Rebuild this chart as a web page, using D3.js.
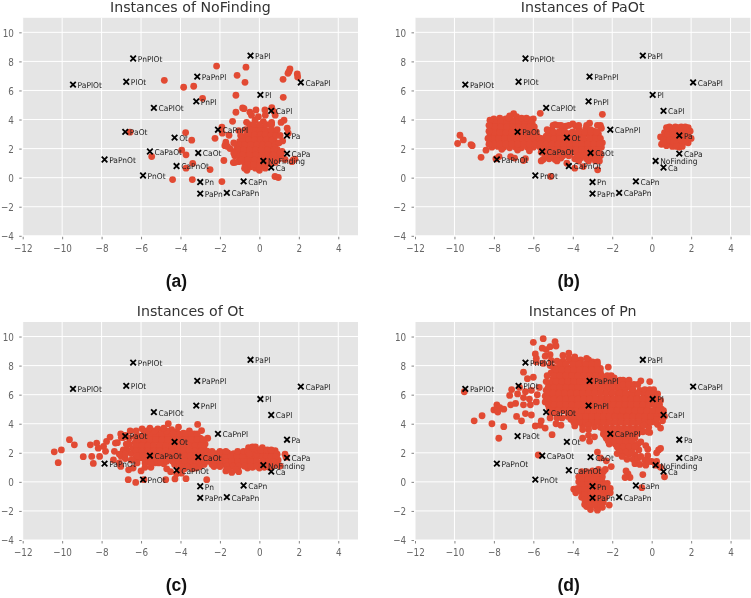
<!DOCTYPE html>
<html><head><meta charset="utf-8">
<script src="https://cdn.jsdelivr.net/npm/d3@7"></script>
<style>html,body{margin:0;padding:0;background:#fff}svg{display:block;filter:blur(0.35px)}</style></head>
<body><div id="chart"></div>
<script>
const xTicks=[-12,-10,-8,-6,-4,-2,0,2,4];
const yTicks=[-4,-2,0,2,4,6,8,10];
const classNames=["NoFinding","Ca","Pa","CaPa","Pn","CaPn","PaPn","CaPaPn","Pl","CaPl","PaPl","CaPaPl","PnPl","CaPnPl","PaPnPl","Ot","CaOt","PaOt","CaPaOt","PnOt","CaPnOt","PaPnOt","PlOt","CaPlOt","PaPlOt","PnPlOt"];
const classX=[0.2,0.6,1.4,1.4,-3,-0.8,-3,-1.65,0.05,0.6,-0.45,2.1,-3.2,-2.1,-3.15,-4.3,-3.1,-6.8,-5.55,-5.9,-4.2,-7.85,-6.75,-5.35,-9.45,-6.4];
const classY=[1.15,0.7,2.9,1.65,-0.3,-0.25,-1.1,-1.05,5.7,4.6,8.4,6.55,5.25,3.3,6.95,2.75,1.7,3.15,1.8,0.15,0.8,1.25,6.6,4.8,6.4,8.2];

const pointsNoFinding=[[-2.17,7.68],[-0.68,7.6],[-1.13,7.04],[-0.73,6.56],[-4.82,6.7],[-3.84,6.22],[-3.33,6.29],[-2.88,5.46],[-1.19,5.67],[1.2,6.77],[1.21,5.53],[1.45,7.18],[1.55,7.48],[1.5,7.3],[1.92,7.14],[1.94,6.93],
[-1.19,4.5],[-0.85,4.8],[-0.78,4.75],[-0.48,4.5],[-0.17,4.66],[0.28,4.66],[0.63,4.82],[0.74,4.55],[-1.36,3.88],[-0.65,3.81],[-0.22,3.97],[-0.05,4.2],[0.2,3.86],[0.62,3.8],[0.62,3.65],[1.1,3.8],[1.25,3.95],[1.41,3.4],[1.46,3.06],[1.18,2.53],[0.76,3.06],[-1.9,3.47],[-1.88,3.06],[-1.54,2.92],[-1.05,3.24],[-2.25,2.71],[-1.7,2.44],[-1.75,2.2],[-1.49,2],[-1.62,2.15],[-1.8,1.18],[-1.32,1.04],[-0.63,0.51],[0,0.51],[-0.2,0.65],[-0.45,0.75],
[-3.74,3.1],[-3.43,2.58],[-3.94,1.89],[-3.72,1.57],[-5.46,1.45],[-6.56,3.13],[-3.38,0.99],[-3.72,0.65],[-2.5,0.56],[-4.4,-0.13],[-3.4,-0.13],[-1.9,-0.27],[0.79,0.08],[0.96,0.01],[1.72,1.22],[1.8,1.28],[1.3,1.25],[1.65,1.1],
[-0.3,3.45],[-0.05,3.5],[0.2,3.4],[-0.15,3.2],[0.1,3.1],[0.4,3.05],[-0.4,3.0],[-0.7,2.85],[-0.4,2.7],[-0.1,2.8],[0.2,2.75],[0.5,2.7],[0.75,2.55],[-1.0,2.5],[-0.75,2.45],[-0.45,2.4],[-0.15,2.45],[0.15,2.4],[0.45,2.35],[0.7,2.2],[-1.15,2.2],[-0.9,2.1],[-0.6,2.05],[-0.3,2.1],[0,2.05],[0.3,2.0],[0.6,1.95],[0.9,1.95],[-1.2,1.85],[-0.95,1.75],[-0.65,1.7],[-0.35,1.75],[-0.05,1.7],[0.25,1.7],[0.55,1.6],[0.85,1.6],[-1.25,1.5],[-1.0,1.4],[-0.7,1.35],[-0.4,1.4],[-0.1,1.35],[0.2,1.3],[0.5,1.25],[0.95,1.25],[-1.05,1.1],[-0.75,1.0],[-0.45,1.05],[-0.15,1.0],[0.15,0.95],[0.5,0.95],[-0.6,0.8],[-0.3,0.8],[0,0.75],[1.1,1.5],[1.15,1.8]];
const denseNoFinding=[[3.25,[-0.25,0.05,0.3]],[2.95,[-0.55,-0.25,0.05,0.3,0.6]],[2.6,[-0.85,-0.55,-0.25,0.05,0.35,0.65]],[2.25,[-1.0,-0.75,-0.45,-0.15,0.15,0.45,0.8]],[1.9,[-1.05,-0.8,-0.5,-0.2,0.1,0.4,0.75]],[1.55,[-1.1,-0.85,-0.5,-0.2,0.1,0.4,0.7]],[1.2,[-0.9,-0.6,-0.25,0.05,0.35,0.7]],[0.9,[-0.6,-0.3,0,0.3]],
[3.65,[-0.5,-0.3,0,0.35,0.55]],[3.3,[-0.7,-0.5,0.6,0.9]],[2.9,[-0.95,0.85,1.05]],[2.4,[-1.3,1.0]],[1.7,[-1.3,1.05]],[1.05,[-1.25,0.8]],[0.65,[-0.75,0.3]],[4.3,[-0.4,0.3,0.8]]];

const pointsPaOt=[[-9.84,2.35],[-9.72,2.92],[-9.55,2.6],[-9.16,2.28],[-9.1,2.2],[-8.65,1.4],[-8.4,1.89],[-7.74,1.45],[-7.15,1.45],[-6.95,1.35],[-6.5,1.18],[-5.12,0.08],[-5.65,4.43],[-2.5,4.36],[-3.9,0.65],[-3.47,0.76],[-2.74,0.54],[-4.3,1.0],[-7.9,1.3],[-6.4,1.3],
[-7.0,4.4],[-7.2,4.25],[-6.85,4.2],[-8.0,4.05],[-7.7,4.1],[-7.4,4.05],[-7.1,3.95],[-6.8,3.95],[-6.5,3.9],[-6.2,4.0],[-6.0,4.05],[-8.1,3.7],[-7.8,3.75],[-7.5,3.65],[-7.2,3.7],[-6.9,3.6],[-6.6,3.65],[-6.3,3.6],[-6.05,3.7],[-8.15,3.3],[-7.85,3.35],[-7.55,3.25],[-7.25,3.3],[-6.95,3.2],[-6.65,3.25],[-6.35,3.2],[-6.05,3.3],[-5.85,3.15],[-8.2,2.9],[-7.9,2.95],[-7.6,2.85],[-7.3,2.9],[-7.0,2.8],[-6.7,2.85],[-6.4,2.8],[-6.1,2.9],[-5.8,2.85],[-8.2,2.5],[-7.9,2.55],[-7.6,2.45],[-7.3,2.5],[-7.0,2.4],[-6.7,2.45],[-6.4,2.4],[-6.1,2.5],[-5.8,2.5],[-5.6,2.7],[-8.1,2.1],[-7.8,2.15],[-7.5,2.1],[-7.2,2.05],[-6.9,2.1],[-6.6,2.05],[-6.3,2.1],[-6.0,2.1],[-5.7,2.15],[-7.6,1.95],[-6.8,1.9],[-6.2,1.85],
[-5.25,3.2],[-5.05,3.3],[-4.9,3.65],[-4.75,3.6],[-4.55,3.3],[-4.35,3.55],[-4.0,3.7],[-3.85,3.55],[-3.7,3.35],[-3.35,3.35],[-3.15,3.75],[-2.95,3.2],[-2.6,3.6],[-2.55,3.4],[-5.35,2.85],[-5.05,2.9],[-4.75,2.95],[-4.45,2.9],[-4.15,3.05],[-3.85,2.95],[-3.55,2.95],[-3.25,3.0],[-2.95,2.85],[-2.7,3.0],[-5.45,2.5],[-5.15,2.5],[-4.85,2.55],[-4.55,2.5],[-4.25,2.55],[-3.95,2.5],[-3.65,2.55],[-3.35,2.5],[-3.05,2.5],[-2.75,2.5],[-2.5,2.4],[-5.5,2.1],[-5.2,2.1],[-4.9,2.15],[-4.6,2.1],[-4.3,2.15],[-4.0,2.1],[-3.7,2.1],[-3.4,2.15],[-3.1,2.1],[-2.8,2.1],[-2.55,2.1],[-5.6,1.75],[-5.3,1.7],[-5.0,1.75],[-4.7,1.7],[-4.4,1.75],[-4.1,1.7],[-3.8,1.7],[-3.5,1.75],[-3.2,1.7],[-2.9,1.7],[-2.6,1.65],[-5.5,1.25],[-5.2,1.3],[-4.9,1.25],[-4.6,1.35],[-3.9,1.3],[-3.6,1.35],[-3.3,1.3],[-3.0,1.35],[-2.7,1.25],
[0.75,3.45],[1.05,3.4],[1.35,3.45],[1.6,3.35],[1.85,3.45],[0.65,3.1],[0.95,3.1],[1.25,3.15],[1.55,3.1],[1.85,3.1],[1.95,3.2],[0.45,2.8],[0.7,2.8],[1.0,2.75],[1.3,2.8],[1.6,2.75],[1.9,2.75],[2.0,2.7],[0.5,2.3],[0.7,2.45],[0.95,2.35],[1.25,2.4],[1.55,2.4],[1.85,2.4],[0.75,2.2],[1.05,2.15],[1.4,2.1],[1.4,2.3]];
const densePaOt=[[3.85,[-7.95,-7.65,-7.35,-7.05,-6.75,-6.45,-6.15]],[3.5,[-7.95,-7.65,-7.35,-7.05,-6.75,-6.45,-6.2,-5.95]],[3.1,[-8.0,-7.7,-7.4,-7.1,-6.8,-6.5,-6.2,-5.95]],[2.7,[-8.05,-7.75,-7.45,-7.15,-6.85,-6.55,-6.25,-5.95,-5.7]],[2.3,[-8.0,-7.7,-7.4,-7.1,-6.8,-6.5,-6.2,-5.9,-5.65]],
[3.15,[-5.0,-4.7,-4.4,-4.0,-3.7,-3.4,-3.1,-2.8]],[2.7,[-5.25,-4.95,-4.65,-4.35,-4.05,-3.75,-3.45,-3.15,-2.85,-2.6]],[2.3,[-5.35,-5.05,-4.75,-4.45,-4.15,-3.85,-3.55,-3.25,-2.95,-2.65]],[1.92,[-5.35,-5.05,-4.75,-4.45,-4.15,-3.85,-3.55,-3.25,-2.95,-2.7]],[1.5,[-5.4,-5.1,-4.8,-4.5,-4.2,-3.75,-3.45,-3.15,-2.85,-2.6]],
[3.25,[0.85,1.15,1.45,1.75]],[2.95,[0.8,1.1,1.4,1.7]],[2.6,[0.6,0.9,1.2,1.5,1.8]],[2.45,[0.6,1.1,1.7]],
[3.95,[-8.2]],[3.6,[-8.25]],[3.2,[-8.25]],[2.7,[-8.3]],[2.3,[-8.25]],[4.1,[-7.25,-6.6,-6.35]],[3.6,[-5.0,-4.6,-4.2,-3.7,-3.3,-2.75]],[3.3,[-5.3,-3.1]],[1.15,[-5.6,-4.8,-3.7,-3.2,-2.85,-2.65]],[3.5,[0.9,1.2,1.5,1.7]],[2.15,[1.25,1.55]]];

const pointsOt=[[-10.4,2.07],[-10.04,2.2],[-10.2,1.32],[-9.63,2.9],[-9.38,2.55],[-8.93,1.73],[-8.57,2.55],[-8.5,1.75],[-8.42,1.27],[-8.25,2.67],[-8.17,2.32],[-8.1,1.75],[-7.9,2.44],[-7.75,2.78],[-7.57,3.08],[-7.8,2.1],[-7.3,2.67],[-7.2,2.7],[-7.35,2.1],[-7.4,1.52],[-7.03,3.3],[-7.03,1.06],[-6.65,0.15],[-6.27,-0.04],[-6.63,0.83],[-6.4,0.95],[-5.85,0.15],[-4.75,0.15],[-4.28,0.2],[-3.72,0.22],[-2.67,0.15],[-4.62,4],[-4.1,3.77],[-3.13,3.95],[-2.93,3.53],[-2.62,3],[-6.8,3.2],[-6.6,3.0],[-7.0,1.75],[-6.8,1.6],[-6.5,1.5],[-7.1,1.3],[-6.0,0.75],[-5.8,1.0],[-5.5,1.0],[-5.3,1.3],[-4.7,0.9],[-4.5,0.7],[-4.2,0.55],[-3.95,0.6],
[-6.25,3.5],[-5.95,3.65],[-5.5,3.5],[-5.15,3.65],[-4.9,3.55],[-4.45,3.6],[-4.2,3.45],[-3.85,3.35],[-3.55,3.5],[-3.3,3.3],[-6.3,3.1],[-6.05,3.15],[-5.7,3.05],[-5.4,3.15],[-5.1,3.2],[-4.8,3.2],[-4.5,3.15],[-4.2,3.1],[-3.9,3.0],[-3.6,3.05],[-3.3,2.95],[-3.0,3.0],[-6.3,2.7],[-6.0,2.75],[-5.7,2.7],[-5.4,2.75],[-5.1,2.8],[-4.8,2.8],[-4.5,2.75],[-4.2,2.7],[-3.9,2.65],[-3.6,2.7],[-3.3,2.6],[-3.0,2.65],[-2.75,2.6],[-6.4,2.3],[-6.1,2.35],[-5.8,2.3],[-5.5,2.35],[-5.2,2.4],[-4.9,2.4],[-4.6,2.35],[-4.3,2.3],[-4.0,2.3],[-3.7,2.3],[-3.4,2.25],[-3.1,2.3],[-2.8,2.25],[-6.5,1.95],[-6.15,2.0],[-5.85,1.95],[-5.55,2.0],[-5.25,2.0],[-4.95,2.0],[-4.65,1.95],[-4.35,1.95],[-4.05,1.95],[-3.75,1.95],[-3.45,1.9],[-3.15,1.95],[-2.85,1.9],[-6.3,1.6],[-6.0,1.65],[-5.7,1.6],[-5.4,1.65],[-5.1,1.65],[-4.8,1.6],[-4.5,1.55],[-4.2,1.6],[-3.9,1.6],[-3.6,1.55],[-3.3,1.55],[-3.0,1.55],[-2.7,1.55],[-5.8,1.3],[-5.1,1.3],[-4.85,1.25],[-4.3,1.2],[-4.0,1.25],[-3.7,1.2],[-3.4,1.2],[-3.1,1.25],[-2.8,1.2],[-4.1,0.9],[-3.8,0.9],[-3.4,0.9],[-3.2,0.95],
[-2.5,1.9],[-2.2,1.95],[-1.9,2.0],[-1.6,2.0],[-1.3,1.95],[-1.0,1.95],[-0.7,1.85],[-2.45,1.55],[-2.15,1.55],[-1.85,1.6],[-1.55,1.6],[-1.25,1.6],[-0.95,1.6],[-0.65,1.55],[-0.35,1.7],[-2.4,1.2],[-2.1,1.2],[-1.8,1.2],[-1.5,1.25],[-1.2,1.2],[-0.9,1.25],[-0.6,1.2],[-0.3,1.3],[0,1.25],[-1.7,0.75],[-1.4,0.65],[-1.05,0.7],[-0.6,0.95],[-0.35,1.0],[0,0.95],[0.25,1.0],[0.5,1.0],[0.75,1.15],[-0.55,2.35],[-0.35,2.4],[-0.2,2.4],[0.15,2.35],[0.2,1.95],[0.35,2.1],[0.5,1.95],[0.65,1.95],[0.75,1.75],[0.8,2.15],[0.9,1.9],[0.95,1.5],[0.5,1.6],[0.2,1.6],[-0.05,1.85],[-0.35,2.0],[0.85,1.3],[1.3,1.9],[1.35,1.7],[1.05,1.1]];
const denseOt=[[3.3,[-5.85,-5.55,-5.25,-4.95,-4.65,-4.35,-4.05,-3.75,-3.45,-3.15]],[2.9,[-6.15,-5.85,-5.55,-5.25,-4.95,-4.65,-4.35,-4.05,-3.75,-3.45,-3.15,-2.85]],[2.5,[-6.25,-5.95,-5.65,-5.35,-5.05,-4.75,-4.45,-4.15,-3.85,-3.55,-3.25,-2.95]],[2.12,[-6.25,-5.95,-5.65,-5.35,-5.05,-4.75,-4.45,-4.15,-3.85,-3.55,-3.25,-2.95,-2.65]],[1.78,[-6.2,-5.9,-5.6,-5.3,-5.0,-4.7,-4.4,-4.1,-3.8,-3.5,-3.2,-2.9,-2.6]],[1.42,[-5.6,-5.3,-5.0,-4.7,-4.4,-4.1,-3.8,-3.5,-3.2,-2.9,-2.6]],[1.05,[-3.95,-3.65,-3.3,-3.0]],
[1.75,[-2.35,-2.05,-1.75,-1.45,-1.15,-0.85,-0.5,-0.2,0.05,0.35,0.6,0.85]],[1.4,[-2.3,-2.0,-1.7,-1.4,-1.1,-0.8,-0.45,-0.15,0.15,0.45,0.7]],[1.08,[-1.65,-1.35,-1.05,-0.75,-0.45,-0.15,0.1,0.4,0.65]],
[1.05,[-2.3,-2.0]],[0.85,[-1.6,-1.2]],[2.1,[-2.4,-2.0,-1.7,-1.1,-0.8,-0.6]],[1.9,[-0.5,-0.15]],[2.2,[-0.1,0.05,0.4,0.6]],[2.6,[-6.6,-6.75]],[2.2,[-6.7,-6.9]],[1.9,[-6.8,-7.1]],[3.5,[-6.55,-5.7,-5.3,-4.7]],[3.7,[-5.55,-4.85]],[3.05,[-7.0,-6.9]],[1.3,[-6.2,-5.5]]];

const pointsPn=[[-6.0,9.6],[-5.5,9.85],[-5.55,9.2],[-5.35,9.1],[-5.15,9.3],[-4.9,9.65],[-4.85,9.35],[-5.9,8.8],[-5.85,8.5],[-5.4,8.65],[-5.15,8.75],[-5.5,8.15],[-5.1,8.35],[-5.85,8.25],[-6.5,7.55],[-6.3,7.1],[-6.0,7.2],[-5.7,6.5],[-6.7,6.5],[-6.4,6.2],[-6.1,6.3],[-5.8,6.0],[-7.1,6.35],[-7.2,5.95],[-6.8,6.05],[-6.5,5.8],[-6.2,5.7],[-7.15,5.3],[-6.9,5.4],[-6.5,5.3],[-6.15,5.3],[-5.85,5.5],[-7.85,5.3],[-7.7,5.1],[-8.0,4.95],[-7.5,5.0],[-7.8,4.8],[-8.6,4.55],[-9.0,4.2],[-8.1,4.0],[-7.5,3.8],[-7.75,3.0],[-6.85,4.5],[-6.6,4.2],[-6.4,4.7],[-6.1,4.6],[-5.9,3.85],[-5.65,3.9],[-5.6,4.2],[-5.4,3.7],[-5.15,4.4],[-4.85,4.0],[-5.05,3.25],[-4.6,3.9],[-5.75,1.85],[-9.5,6.2],
[-4.5,8.7],[-4.2,8.85],[-3.9,8.6],[-3.6,8.4],[-3.2,8.4],[-3.0,8.25],[-2.75,8.25],[-2.2,7.9],[-4.8,8.3],[-4.5,8.3],[-4.15,8.35],[-3.85,8.2],[-3.55,8.1],[-3.2,8.0],[-2.9,7.95],[-2.6,7.8],[-5.0,7.9],[-4.7,7.9],[-4.4,7.95],[-4.1,7.85],[-3.8,7.8],[-3.5,7.75],[-3.2,7.7],[-2.9,7.6],[-2.6,7.55],[-5.1,7.5],[-4.8,7.5],[-4.5,7.55],[-4.2,7.45],[-3.9,7.45],[-3.6,7.4],[-3.3,7.35],[-3.0,7.3],[-2.7,7.3],[-2.4,7.2],[-2.05,7.3],[-1.9,7.15],[-5.0,7.1],[-4.7,7.1],[-4.4,7.1],[-4.1,7.05],[-3.8,7.05],[-3.5,7.0],[-3.2,7.0],[-2.9,6.95],[-2.6,6.9],[-2.3,6.85],[-2.0,6.85],[-1.7,6.8],[-1.3,6.9],[-5.2,6.7],[-4.9,6.7],[-4.6,6.75],[-4.3,6.65],[-4.0,6.7],[-3.7,6.65],[-3.4,6.6],[-3.1,6.6],[-2.8,6.55],[-2.5,6.55],[-2.2,6.5],[-1.9,6.5],[-1.6,6.45],[-1.3,6.5],[-1.0,6.4],[-0.55,6.95],[-0.1,6.9],[-5.35,6.3],[-5.05,6.3],[-4.75,6.35],[-4.45,6.3],[-4.15,6.3],[-3.85,6.25],[-3.55,6.25],[-3.25,6.2],[-2.95,6.2],[-2.65,6.15],[-2.35,6.15],[-2.05,6.1],[-1.75,6.1],[-1.45,6.1],[-1.15,6.05],[-0.85,6.1],[-0.6,6.3],[-0.4,6.0],[-5.4,5.9],[-5.1,5.9],[-4.8,5.95],[-4.5,5.9],[-4.2,5.9],[-3.9,5.85],[-3.6,5.85],[-3.3,5.8],[-3.0,5.8],[-2.7,5.75],[-2.4,5.75],[-2.1,5.7],[-1.8,5.7],[-1.5,5.7],[-1.2,5.7],[-0.9,5.7],[-0.6,5.7],[-0.3,5.7],[-0.05,5.8],[0.25,5.8],[-5.4,5.5],[-5.1,5.5],[-4.8,5.55],[-4.5,5.5],[-4.2,5.5],[-3.9,5.45],[-3.6,5.45],[-3.3,5.4],[-3.0,5.4],[-2.7,5.35],[-2.4,5.35],[-2.1,5.3],[-1.8,5.3],[-1.5,5.3],[-1.2,5.3],[-0.9,5.3],[-0.6,5.3],[-0.3,5.3],[0,5.35],[0.3,5.4],[-5.2,5.1],[-4.9,5.1],[-4.6,5.15],[-4.3,5.1],[-4.0,5.05],[-3.7,5.05],[-3.4,5.0],[-3.1,5.0],[-2.8,4.95],[-2.5,4.95],[-2.2,4.9],[-1.9,4.9],[-1.6,4.9],[-1.3,4.9],[-1.0,4.9],[-0.7,4.9],[-0.4,4.9],[-0.1,4.9],[0.2,4.95],[0.5,5.0],[-5.1,4.7],[-4.8,4.7],[-4.1,4.7],[-3.8,4.65],[-3.5,4.65],[-3.2,4.6],[-2.9,4.55],[-2.6,4.55],[-2.3,4.5],[-2.0,4.5],[-1.7,4.5],[-1.4,4.5],[-1.1,4.5],[-0.8,4.5],[-0.5,4.5],[-0.2,4.5],[0.1,4.55],[0.4,4.6],[0.65,4.5],[0.55,4.2],[-4.1,4.3],[-3.8,4.25],[-3.5,4.25],[-3.2,4.2],[-2.9,4.2],[-2.6,4.15],[-2.3,4.15],[-2.0,4.1],[-1.7,4.1],[-1.4,4.1],[-1.1,4.1],[-0.8,4.1],[-0.5,4.1],[-0.2,4.15],[0.1,4.2],[0.3,3.95],[-3.9,3.85],[-3.5,3.85],[-2.9,3.8],[-2.6,3.75],[-2.3,3.75],[-2.0,3.7],[-1.7,3.7],[-1.4,3.7],[-1.1,3.7],[-0.8,3.7],[-0.5,3.8],[-0.15,3.75],[0.45,3.7],[-0.1,3.4],[-3.5,3.0],[-3.2,3.2],[-3.15,2.8],[-2.9,3.1],[-2.45,3.3],[-2.2,3.35],[-1.9,3.35],[-1.6,3.3],[-1.3,3.3],[-1.0,3.3],[-0.7,3.35],[-2.3,3.0],[-2.0,2.95],[-1.7,2.95],[-1.4,2.95],[-1.1,2.95],[-0.85,3.0],[-2.15,2.6],[-1.85,2.6],[-1.55,2.6],[-1.25,2.6],[-0.95,2.6],[-0.7,2.6],[-0.3,2.5],[-0.2,2.25],[-1.65,2.25],[-1.35,2.25],[-1.05,2.25],[-0.65,2.2],[-1.75,1.95],[-1.45,1.9],[-1.15,1.9],[-0.85,1.85],[-0.2,1.8],[0.35,2.2],[0.45,2.3],[0.25,2.0],[-1.25,1.55],[-0.95,1.55],[-0.7,1.6],[-0.35,1.5],[0,1.4],[-0.85,1.25],[-0.6,1.2],[-0.3,1.15],[0.2,1.15],[0.45,1.0],[-2.75,2.05],[-2.6,1.65],[-2.3,1.45],[-2.05,1.05],[-1.3,0.75],[-1.2,0.55],[-1.1,0.3],[-1.35,0.3],[-0.45,0.5],[0.65,0.35],[-0.5,-0.4],[-2.35,0.85],
[-3.55,0.7],[-3.3,0.7],[-3.0,0.75],[-2.7,0.85],[-2.45,0.7],[-3.7,0.35],[-3.4,0.35],[-3.1,0.4],[-2.8,0.4],[-2.5,0.35],[-3.7,0],[-3.4,0],[-3.1,0],[-2.8,0.05],[-2.5,0],[-2.25,-0.1],[-3.55,-0.35],[-3.25,-0.35],[-2.95,-0.3],[-2.65,-0.3],[-2.35,-0.35],[-2.1,-0.45],[-3.95,-0.5],[-3.75,-0.45],[-3.85,-0.75],[-3.55,-0.7],[-3.25,-0.7],[-2.95,-0.7],[-2.65,-0.65],[-2.35,-0.7],[-2.1,-0.75],[-3.55,-1.05],[-3.25,-1.05],[-2.95,-1.05],[-2.65,-1.05],[-2.35,-1.05],[-3.3,-1.4],[-3.05,-1.4],[-2.75,-1.4],[-2.45,-1.4],[-2.15,-1.6],[-3.3,-1.7],[-3.1,-1.9],[-2.8,-1.7],[-2.75,-1.95],[-2.5,-1.75],[-3.4,-1.55]];
const densePn=[[8.1,[-4.65,-4.35,-4.0,-3.7,-3.35,-3.05,-2.75]],[7.7,[-4.85,-4.55,-4.25,-3.95,-3.65,-3.35,-3.05,-2.75]],[7.3,[-4.95,-4.65,-4.35,-4.05,-3.75,-3.45,-3.15,-2.85,-2.55,-2.25]],[6.9,[-5.05,-4.85,-4.55,-4.25,-3.95,-3.65,-3.35,-3.05,-2.75,-2.45,-2.15,-1.85]],[6.5,[-5.25,-4.95,-4.65,-4.35,-4.05,-3.75,-3.45,-3.15,-2.85,-2.55,-2.25,-1.95,-1.65,-1.35,-1.05]],[6.1,[-5.3,-5.0,-4.7,-4.4,-4.1,-3.8,-3.5,-3.2,-2.9,-2.6,-2.3,-2.0,-1.6,-1.3,-1.0,-0.7]],[5.7,[-5.25,-4.95,-4.65,-4.35,-4.05,-3.75,-3.45,-3.15,-2.85,-2.55,-2.25,-1.95,-1.65,-1.35,-1.05,-0.75,-0.45,-0.15,0.1]],[5.3,[-5.25,-4.95,-4.65,-4.35,-4.05,-3.75,-3.45,-3.15,-2.85,-2.55,-2.25,-1.95,-1.65,-1.35,-1.05,-0.75,-0.45,-0.15,0.15,0.4]],[4.9,[-5.05,-4.75,-4.45,-4.15,-3.85,-3.55,-3.25,-2.95,-2.65,-2.35,-2.05,-1.75,-1.45,-1.15,-0.85,-0.55,-0.25,0.05,0.35,0.6]],[4.5,[-4.25,-3.95,-3.65,-3.35,-3.05,-2.75,-2.45,-2.15,-1.85,-1.55,-1.25,-0.95,-0.65,-0.35,-0.05,0.25,0.5]],[4.1,[-3.95,-3.65,-3.35,-3.05,-2.75,-2.45,-2.15,-1.85,-1.55,-1.25,-0.95,-0.65,-0.35,-0.05,0.2]],[3.6,[-2.45,-2.15,-1.85,-1.55,-1.25,-0.95,-0.65]],[3.15,[-2.35,-2.05,-1.75,-1.45,-1.15,-0.85]],[2.8,[-2.2,-1.9,-1.6,-1.3,-1.0]],[2.4,[-1.75,-1.45,-1.15,-0.85]],[2.05,[-1.6,-1.3,-1.0]],
[0.5,[-3.45,-3.15,-2.85,-2.6]],[0.15,[-3.55,-3.25,-2.95,-2.65]],[-0.18,[-3.55,-3.25,-2.95,-2.65,-2.35]],[-0.52,[-3.7,-3.4,-3.1,-2.8,-2.5,-2.2]],[-0.88,[-3.4,-3.1,-2.8,-2.5]],[-1.22,[-3.4,-3.1,-2.8,-2.5]],[-1.55,[-3.15,-2.9,-2.6]],
[7.0,[-2.6,-2.25,-1.95,-1.6,-1.45,-1.15]],[6.7,[-1.45,-1.15,-0.9,-0.7]],[6.35,[-0.95,-0.35,-0.1,0.1]],[6.05,[-0.15,0.1,0.3]],[5.6,[0.45]],[4.3,[0.25]],[3.9,[-3.2,-0.4]],[3.45,[-1.5,-0.45,-0.2]],[2.75,[-0.55]],[1.4,[-0.15,0.25]],[1.75,[-1.5,-0.55]],[8.5,[-4.2,-3.9,-3.3]],[8.0,[-5.15]],[7.3,[-5.3]],[6.9,[-5.35]],[4.4,[-4.55,-4.8]],[3.6,[-3.2,-3.5]]];

const flatten=rows=>rows.flatMap(([yv,xs])=>xs.map(xv=>[xv,yv]));
const panels=[
 {title:"Instances of NoFinding",caption:"(a)",pts:pointsNoFinding.concat(flatten(denseNoFinding)),left:22.7,top:17.8},
 {title:"Instances of PaOt",caption:"(b)",pts:pointsPaOt.concat(flatten(densePaOt)),left:415,top:17.8},
 {title:"Instances of Ot",caption:"(c)",pts:pointsOt.concat(flatten(denseOt)),left:22.7,top:322},
 {title:"Instances of Pn",caption:"(d)",pts:pointsPn.concat(flatten(densePn)),left:415,top:322}];
const W=335.3,H=218;
const svg=d3.select("#chart").append("svg").attr("width",751).attr("height",598);
const font="'DejaVu Sans',sans-serif";
const x=d3.scaleLinear().domain([-12,5]).range([0,W]);
const y=d3.scaleLinear().domain([-4,11]).range([H,0]);
const cross=d3.symbol().type(d3.symbolTimes).size(22);
const fmt=d=>String(d).replace("-","\u2212");
panels.forEach(p=>{
 const g=svg.append("g").attr("transform",`translate(${p.left},${p.top})`);
 g.append("rect").attr("width",W).attr("height",H).attr("fill","#E5E5E5");
 g.selectAll("line.gx").data(xTicks).join("line").attr("class","gx").attr("x1",d=>x(d)).attr("x2",d=>x(d)).attr("y1",0).attr("y2",H).attr("stroke","#fff").attr("stroke-width",1);
 g.selectAll("line.gy").data(yTicks).join("line").attr("class","gy").attr("y1",d=>y(d)).attr("y2",d=>y(d)).attr("x1",0).attr("x2",W).attr("stroke","#fff").attr("stroke-width",1);
 const ax=g.append("g").attr("transform",`translate(0,${H})`).call(d3.axisBottom(x).tickValues(xTicks).tickFormat(fmt));
 const ay=g.append("g").call(d3.axisLeft(y).tickValues(yTicks).tickFormat(fmt));
 [ax,ay].forEach(a=>{a.select(".domain").remove();a.selectAll("line").attr("stroke","#666").attr("stroke-width",.8);a.selectAll("text").attr("fill","#666").attr("font-family",font).attr("font-size",10.5);});
 ax.selectAll("line").attr("y1",1).attr("y2",3.5);
 ay.selectAll("line").attr("x1",-1).attr("x2",-3.5);
 ax.selectAll("text").attr("x",0).attr("y",15.9).attr("dy",0).attr("transform","scale(.84,1)");
 ay.selectAll("text").attr("x",0).attr("dy","0.36em").attr("transform","translate(-8.8,0) scale(.84,1)");
 g.append("g").selectAll("circle").data(p.pts).join("circle").attr("cx",d=>x(d[0])).attr("cy",d=>y(d[1])).attr("r",3.4).attr("fill","#E24A33");
 const m=g.append("g").selectAll("g").data(classNames).join("g").attr("transform",(d,i)=>`translate(${x(classX[i])},${y(classY[i])})`);
 m.append("path").attr("d",cross).attr("fill","none").attr("stroke","#000").attr("stroke-width",1.8);
 m.append("text").text(d=>d).attr("x",0).attr("y",3.4).attr("transform","translate(4.6,0) scale(.94,1)").attr("font-family",font).attr("font-size",8).attr("fill","#222");
 g.append("text").text(p.title).attr("x",W/2).attr("y",-6).attr("text-anchor","middle").attr("font-family",font).attr("font-size",14.2).attr("fill","#333");
 g.append("text").text(p.caption).attr("x",W/2-14).attr("y",H+51).attr("text-anchor","middle").attr("font-family","'Liberation Sans',Arial,sans-serif").attr("font-weight","bold").attr("font-size",17.5).attr("fill","#111");
});
</script></body></html>
